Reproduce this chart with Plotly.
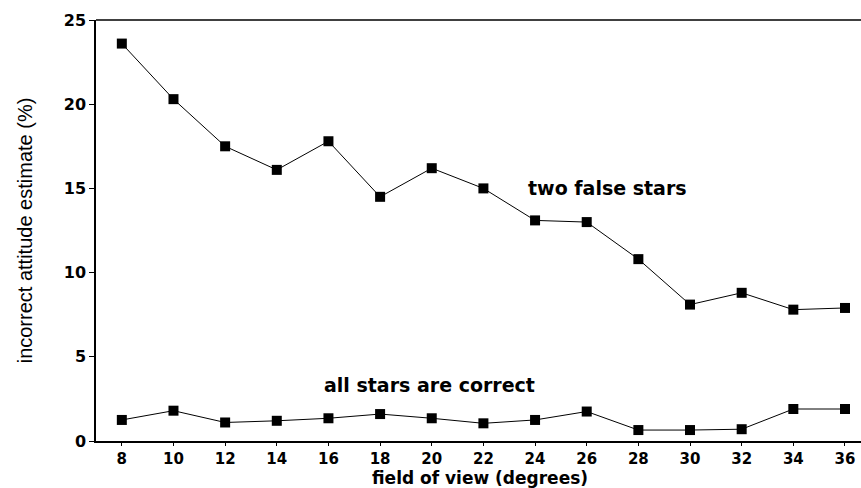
import plotly.graph_objects as go

fov = [8, 10, 12, 14, 16, 18, 20, 22, 24, 26, 28, 30, 32, 34, 36]
two_false = [23.6, 20.3, 17.5, 16.1, 17.8, 14.5, 16.2, 15.0, 13.1, 13.0, 10.8, 8.1, 8.8, 7.8, 7.9]
all_correct = [1.25, 1.8, 1.1, 1.2, 1.35, 1.6, 1.35, 1.05, 1.25, 1.75, 0.65, 0.65, 0.7, 1.9, 1.9]
x_ticks = [8, 10, 12, 14, 16, 18, 20, 22, 24, 26, 28, 30, 32, 34, 36]
y_ticks = [0, 5, 10, 15, 20, 25]

fig = go.Figure()
for ys in (two_false, all_correct):
    fig.add_trace(go.Scatter(
        x=fov, y=ys, mode="lines+markers",
        line=dict(color="black", width=1),
        marker=dict(symbol="square", size=10, color="black"),
        showlegend=False,
    ))

tick_font = dict(family="DejaVu Sans", size=16, color="black", weight="bold")
xtick_font = dict(family="DejaVu Sans", size=15, color="black", weight="bold")
label_font = dict(family="DejaVu Sans", size=19, color="black", weight="bold")

fig.update_layout(
    width=861, height=488,
    margin=dict(l=96, r=0, t=20, b=47),
    paper_bgcolor="white", plot_bgcolor="white",
    xaxis=dict(
        range=[7, 36.62], tickvals=x_ticks, ticks="outside", ticklen=3,
        tickcolor="black", showline=True, linecolor="black", linewidth=1.5,
        showgrid=False, zeroline=False, tickfont=xtick_font,
        ticklabeloverflow="allow",
    ),
    yaxis=dict(
        range=[0, 25], tickvals=y_ticks, ticks="outside", ticklen=5,
        tickcolor="black", showline=True, linecolor="black", linewidth=1.5,
        showgrid=False, zeroline=False, tickfont=tick_font,
        ticklabeloverflow="allow",
        title=dict(text="incorrect attitude estimate (%)",
                   font=dict(family="Liberation Sans Narrow, Liberation Sans", size=20, color="black"),
                   standoff=26),
    ),
    shapes=[dict(type="line", xref="paper", yref="paper", x0=0, x1=1, y0=1, y1=1,
                 line=dict(color="black", width=1.5))],
    annotations=[
        dict(x=26.8, y=15.0, xref="x", yref="y", text="two false stars", showarrow=False,
             font=label_font),
        dict(x=19.9, y=3.3, xref="x", yref="y", text="all stars are correct", showarrow=False,
             font=label_font),
        dict(x=0.502, y=-0.087, xref="paper", yref="paper", text="field of view (degrees)",
             showarrow=False, yanchor="middle",
             font=dict(family="DejaVu Sans", size=17, color="black", weight="bold")),
    ],
)

fig.write_html(
    "out.html",
    config={"displayModeBar": False},
    post_script="document.body.style.margin='0';document.body.style.overflow='hidden';",
)
